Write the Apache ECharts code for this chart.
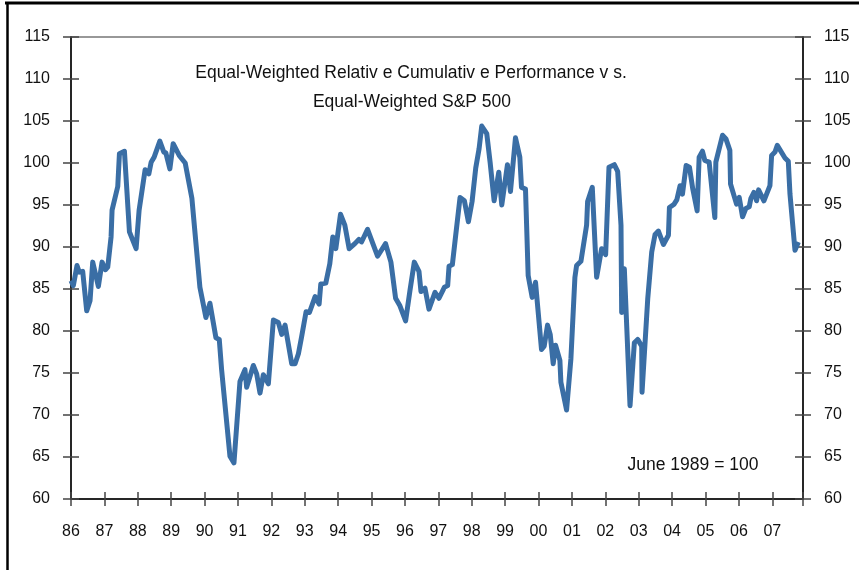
<!DOCTYPE html>
<html>
<head>
<meta charset="utf-8">
<script src="https://cdn.jsdelivr.net/npm/echarts@6/dist/echarts.min.js"></script>
<style>
  html, body { margin: 0; padding: 0; background: #fff; }
  #chart { width: 859px; height: 570px; }
</style>
</head>
<body>
<div id="chart"></div>
<script>
// dates as decimal years, one line per calendar year
const years = [
  1986.00, 1986.07, 1986.18, 1986.25, 1986.35, 1986.47, 1986.57, 1986.65, 1986.82, 1986.93,
  1987.03, 1987.10, 1987.20, 1987.23, 1987.40, 1987.45, 1987.60, 1987.75, 1987.95,
  1988.04, 1988.22, 1988.33, 1988.40, 1988.49, 1988.66, 1988.78, 1988.84, 1988.96,
  1989.06, 1989.24, 1989.42, 1989.62, 1989.86,
  1990.04, 1990.16, 1990.34, 1990.44, 1990.51, 1990.76, 1990.88,
  1991.06, 1991.21, 1991.26, 1991.46, 1991.56, 1991.66, 1991.76, 1991.91,
  1992.06, 1992.21, 1992.31, 1992.41, 1992.61, 1992.71, 1992.81, 1992.91,
  1993.04, 1993.14, 1993.31, 1993.43, 1993.48, 1993.63, 1993.75, 1993.84, 1993.93,
  1994.07, 1994.20, 1994.33, 1994.50, 1994.62, 1994.70, 1994.88,
  1995.18, 1995.42, 1995.58, 1995.72, 1995.85,
  1996.02, 1996.15, 1996.28, 1996.42, 1996.48, 1996.60, 1996.72, 1996.90,
  1997.02, 1997.18, 1997.28, 1997.32, 1997.42, 1997.50, 1997.65, 1997.78, 1997.90,
  1998.01, 1998.12, 1998.22, 1998.30, 1998.45, 1998.55, 1998.67, 1998.81, 1998.90,
  1999.07, 1999.16, 1999.31, 1999.44, 1999.49, 1999.61, 1999.69, 1999.81, 1999.91,
  2000.09, 2000.17, 2000.27, 2000.35, 2000.44, 2000.51, 2000.64, 2000.67, 2000.84, 2000.97,
  2001.09, 2001.14, 2001.27, 2001.44, 2001.47, 2001.61, 2001.74, 2001.89,
  2002.01, 2002.11, 2002.27, 2002.37, 2002.47, 2002.49, 2002.57, 2002.74, 2002.87, 2002.97,
  2003.09, 2003.10, 2003.27, 2003.39, 2003.49, 2003.59, 2003.74, 2003.89, 2003.92,
  2004.06, 2004.14, 2004.24, 2004.31, 2004.42, 2004.52, 2004.62, 2004.75, 2004.81, 2004.91, 2004.98,
  2005.11, 2005.28, 2005.31, 2005.51, 2005.61, 2005.73, 2005.75, 2005.93,
  2006.01, 2006.11, 2006.21, 2006.31, 2006.36, 2006.45, 2006.53, 2006.59, 2006.75, 2006.93, 2006.98,
  2007.08, 2007.15, 2007.38, 2007.48, 2007.53, 2007.68, 2007.78
];

// relative performance, June 1989 = 100
const relPerf = [
  86.0, 85.4, 87.8, 87.0, 87.1, 82.4, 83.6, 88.2, 85.3, 88.2,
  87.3, 87.6, 91.2, 94.4, 97.2, 101.1, 101.4, 91.8, 89.8,
  94.4, 99.2, 98.7, 100.1, 100.7, 102.6, 101.3, 101.2, 99.3,
  102.3, 100.9, 100.0, 95.8, 85.2,
  81.6, 83.3, 79.2, 79.0, 75.4, 65.1, 64.3,
  74.0, 75.4, 73.3, 75.9, 74.9, 72.6, 74.8, 73.7,
  81.3, 81.0, 79.6, 80.7, 76.1, 76.1, 77.3, 79.4,
  82.3, 82.2, 84.1, 83.2, 85.6, 85.7, 88.0, 91.2, 89.8,
  93.9, 92.6, 89.8, 90.4, 90.9, 90.6, 92.1,
  88.9, 90.4, 88.2, 83.9, 83.0,
  81.2, 84.8, 88.2, 87.1, 84.7, 85.1, 82.6, 84.6,
  83.9, 85.2, 85.4, 87.7, 87.9, 90.7, 95.9, 95.5, 93.0,
  95.4, 99.4, 101.7, 104.4, 103.5, 100.1, 95.5, 98.9, 95.0,
  99.8, 96.6, 103.0, 100.7, 97.1, 96.9, 86.6, 84.0, 85.8,
  77.8, 78.2, 80.7, 79.6, 76.1, 78.3, 76.5, 73.9, 70.6, 76.7,
  86.4, 87.8, 88.3, 92.6, 95.4, 97.1, 86.4, 89.8,
  89.1, 99.5, 99.8, 99.0, 92.6, 82.2, 87.4, 71.1, 78.6, 79.0,
  78.2, 72.7, 83.8, 89.4, 91.5, 91.9, 90.3, 91.4, 94.7,
  95.1, 95.6, 97.3, 96.3, 99.7, 99.5, 96.9, 94.3, 100.7, 101.4, 100.3,
  100.1, 93.5, 100.1, 103.3, 102.9, 101.5, 97.5, 95.1,
  95.9, 93.6, 94.6, 94.8, 95.8, 96.5, 95.5, 96.8, 95.5, 97.3, 100.9,
  101.3, 102.1, 100.6, 100.2, 96.3, 89.6, 90.6
];

const yearLabels = ['86', '87', '88', '89', '90', '91', '92', '93', '94', '95', '96',
  '97', '98', '99', '00', '01', '02', '03', '04', '05', '06', '07'];

const titleLines = [
  'Equal-Weighted Relativ e Cumulativ e Performance v s.',
  'Equal-Weighted S&P 500'
];
const baseNote = 'June 1989 = 100';

const FONT = "'Liberation Sans', Arial, sans-serif";
const chart = echarts.init(document.getElementById('chart'), null, { renderer: 'canvas' });

const tickStyle = { color: '#444', width: 1.5 };
const labelStyle = { color: '#111', fontSize: 16, fontFamily: FONT };

function yAxisDef(position, outer) {
  return {
    type: 'value', min: 60, max: 115, interval: 5, position: position,
    splitLine: { show: false },
    axisLine: { show: outer, lineStyle: { color: '#000', width: 1.5 } },
    axisTick: { show: true, inside: !outer, length: 8, lineStyle: tickStyle },
    axisLabel: outer ? Object.assign({ margin: 21 }, labelStyle) : { show: false }
  };
}

function xAxisDef(outer) {
  return {
    type: 'value', min: 1986, max: 2007.92, interval: 1, position: 'bottom',
    splitLine: { show: false },
    axisLine: { show: outer, onZero: false, lineStyle: { color: '#000', width: 1.5 } },
    axisTick: { show: true, inside: !outer, length: 7, lineStyle: tickStyle },
    axisLabel: outer ? Object.assign({
      margin: 25,
      formatter: v => Number.isInteger(v) ? (yearLabels[v - 1986] || '') : ''
    }, labelStyle) : { show: false }
  };
}

chart.setOption({
  animation: false,
  backgroundColor: '#fff',
  grid: {
    left: 71, right: 56, top: 37, bottom: 71,
    show: true, borderColor: '#777', borderWidth: 1.5, backgroundColor: '#fff'
  },
  xAxis: [xAxisDef(true), xAxisDef(false)],
  yAxis: [yAxisDef('left', true), yAxisDef('left', false), yAxisDef('right', true), yAxisDef('right', false)],
  series: [{
    type: 'line',
    xAxisIndex: 0,
    yAxisIndex: 0,
    data: years.map((y, i) => [y, relPerf[i]]),
    showSymbol: false,
    lineStyle: { color: '#3a6ea5', width: 5, join: 'round' },
    z: 3
  }],
  graphic: [
    { type: 'line', shape: { x1: 5, y1: 3, x2: 859, y2: 3 }, style: { stroke: '#000', lineWidth: 3 } },
    { type: 'line', shape: { x1: 7.5, y1: 2, x2: 7.5, y2: 570 }, style: { stroke: '#000', lineWidth: 2.5 } },
    {
      type: 'text', x: 411, y: 73,
      style: { text: titleLines[0], fill: '#111', font: '17.5px ' + FONT, textAlign: 'center', textVerticalAlign: 'middle' }
    },
    {
      type: 'text', x: 412, y: 102,
      style: { text: titleLines[1], fill: '#111', font: '17.5px ' + FONT, textAlign: 'center', textVerticalAlign: 'middle' }
    },
    {
      type: 'text', x: 693, y: 465,
      style: { text: baseNote, fill: '#111', font: '17.5px ' + FONT, textAlign: 'center', textVerticalAlign: 'middle' }
    }
  ]
});
</script>
</body>
</html>
